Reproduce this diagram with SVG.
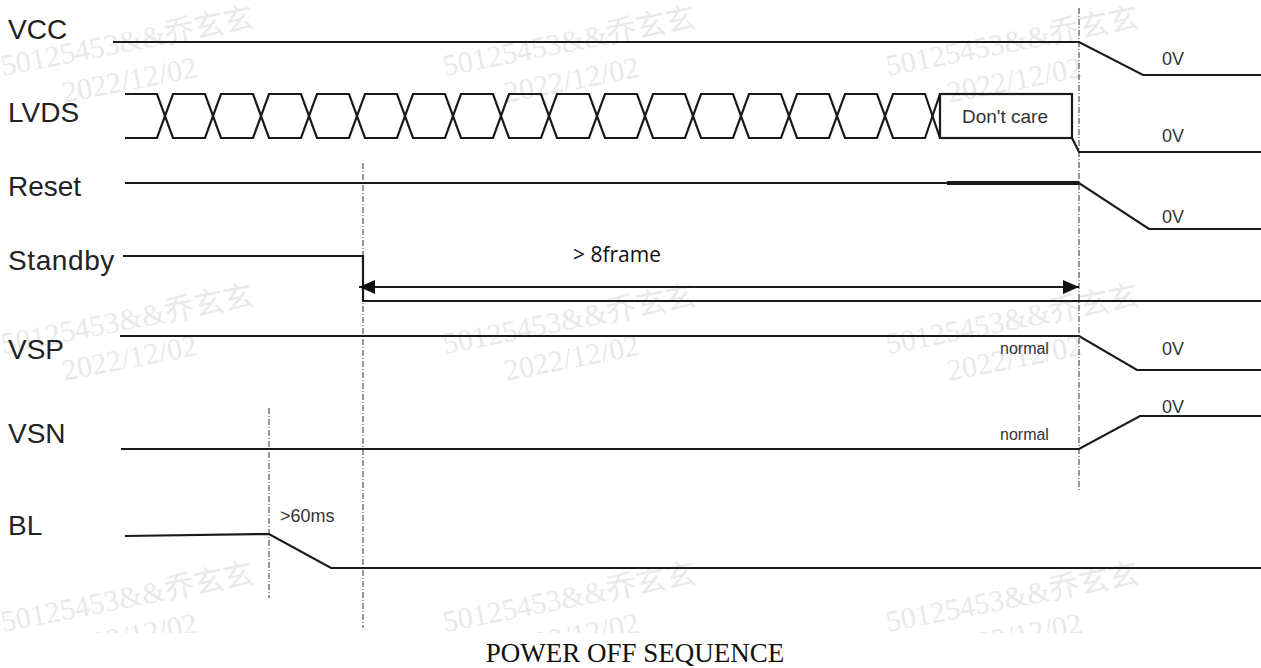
<svg xmlns="http://www.w3.org/2000/svg" width="1261" height="668" viewBox="0 0 1261 668">
<style>
.sig{fill:none;stroke:#1a1a1a;stroke-width:2.2;stroke-linejoin:miter}
.guide{fill:none;stroke:#555;stroke-width:1.2;stroke-dasharray:6 2 1 2}
.lbl{font-family:"Liberation Sans",Arial,sans-serif;font-size:28px;fill:#222}
.small{font-family:"Liberation Sans",Arial,sans-serif;font-size:18px;fill:#333}
.norm{font-family:"Liberation Sans",Arial,sans-serif;font-size:16px;fill:#333}
.wm{font-family:"Liberation Serif","Noto Sans CJK SC",serif;font-size:30px;fill:#e9e9e9}
.title{font-family:"Liberation Serif","Times New Roman",serif;font-size:27px;fill:#111}
</style>
<defs>
<clipPath id="wmclip"><rect x="0" y="0" width="1261" height="633"/></clipPath>
<marker id="ah" viewBox="0 0 16 14" refX="16" refY="7" markerWidth="16" markerHeight="14" markerUnits="userSpaceOnUse" orient="auto-start-reverse"><path d="M0,0 L16,7 L0,14 Z" fill="#111"/></marker>
</defs>
<rect width="1261" height="668" fill="#fff"/>
<g id="watermarks" clip-path="url(#wmclip)">
<g transform="translate(3,76) rotate(-11)"><text class="wm" x="0" y="0">50125453&amp;&amp;乔玄玄</text><text class="wm" x="55" y="38">2022/12/02</text></g>
<g transform="translate(445,76) rotate(-11)"><text class="wm" x="0" y="0">50125453&amp;&amp;乔玄玄</text><text class="wm" x="55" y="38">2022/12/02</text></g>
<g transform="translate(888,76) rotate(-11)"><text class="wm" x="0" y="0">50125453&amp;&amp;乔玄玄</text><text class="wm" x="55" y="38">2022/12/02</text></g>
<g transform="translate(3,354) rotate(-11)"><text class="wm" x="0" y="0">50125453&amp;&amp;乔玄玄</text><text class="wm" x="55" y="38">2022/12/02</text></g>
<g transform="translate(445,354) rotate(-11)"><text class="wm" x="0" y="0">50125453&amp;&amp;乔玄玄</text><text class="wm" x="55" y="38">2022/12/02</text></g>
<g transform="translate(888,354) rotate(-11)"><text class="wm" x="0" y="0">50125453&amp;&amp;乔玄玄</text><text class="wm" x="55" y="38">2022/12/02</text></g>
<g transform="translate(3,632) rotate(-11)"><text class="wm" x="0" y="0">50125453&amp;&amp;乔玄玄</text><text class="wm" x="55" y="38">2022/12/02</text></g>
<g transform="translate(445,632) rotate(-11)"><text class="wm" x="0" y="0">50125453&amp;&amp;乔玄玄</text><text class="wm" x="55" y="38">2022/12/02</text></g>
<g transform="translate(888,632) rotate(-11)"><text class="wm" x="0" y="0">50125453&amp;&amp;乔玄玄</text><text class="wm" x="55" y="38">2022/12/02</text></g>
</g>
<g id="guides">
<line class="guide" x1="1079" y1="8" x2="1079" y2="490"/>
<line class="guide" x1="363" y1="163" x2="363" y2="628"/>
<line class="guide" x1="269" y1="408" x2="269" y2="598"/>
</g>
<g id="vcc">
<text class="lbl" x="8" y="39">VCC</text>
<path class="sig" d="M113,42 H1079 L1143,75 H1261"/>
<text class="small" x="1162" y="65">0V</text>
</g>
<g id="lvds">
<text class="lbl" x="8" y="122">LVDS</text>
<path class="sig" d="M125,94 H157 L173,138 H205 L221,94 H253 L269,138 H301 L317,94 H349 L365,138 H397 L413,94 H445 L461,138 H493 L509,94 H541 L557,138 H589 L605,94 H637 L653,138 H685 L701,94 H733 L749,138 H781 L797,94 H829 L845,138 H877 L893,94 H925 L940,138"/>
<path class="sig" d="M125,138 H157 L173,94 H205 L221,138 H253 L269,94 H301 L317,138 H349 L365,94 H397 L413,138 H445 L461,94 H493 L509,138 H541 L557,94 H589 L605,138 H637 L653,94 H685 L701,138 H733 L749,94 H781 L797,138 H829 L845,94 H877 L893,138 H925 L940,94"/>
<rect class="sig" x="940" y="94" width="132" height="44"/>
<text class="small" x="962" y="123" style="font-size:19px">Don't care</text>
<path class="sig" d="M1072,138 L1079,152 H1261"/>
<text class="small" x="1162" y="142">0V</text>
</g>
<g id="reset">
<text class="lbl" x="8" y="196">Reset</text>
<path class="sig" d="M125,183 H1079 L1149,229 H1261"/>
<path class="sig" d="M947,183 H1079" style="stroke-width:4"/>
<text class="small" x="1162" y="223">0V</text>
</g>
<g id="standby">
<text class="lbl" x="8" y="270" style="letter-spacing:0.6px">Standby</text>
<path class="sig" d="M123,256 H363 V301 H1261"/>
</g>
<g id="connectors">
<line class="sig" x1="359" y1="287" x2="1079" y2="287" marker-start="url(#ah)" marker-end="url(#ah)"/>
<text x="573" y="262" style="font-family:'Open Sans','Liberation Sans',sans-serif;font-size:21px;fill:#111">&gt; 8frame</text>
</g>
<g id="vsp">
<text class="lbl" x="8" y="359">VSP</text>
<path class="sig" d="M120,336 H1079 L1137,370 H1261"/>
<text class="norm" x="1000" y="354">normal</text>
<text class="small" x="1162" y="355">0V</text>
</g>
<g id="vsn">
<text class="lbl" x="8" y="443">VSN</text>
<path class="sig" d="M121,449 H1079 L1140,416 H1261"/>
<text class="norm" x="1000" y="440">normal</text>
<text class="small" x="1162" y="413">0V</text>
</g>
<g id="bl">
<text class="lbl" x="8" y="535">BL</text>
<path class="sig" d="M125,536 L269,534 L331,568 H1261"/>
<text class="small" x="280" y="522">&gt;60ms</text>
</g>
<text class="title" x="635" y="662" text-anchor="middle">POWER OFF SEQUENCE</text>
</svg>
